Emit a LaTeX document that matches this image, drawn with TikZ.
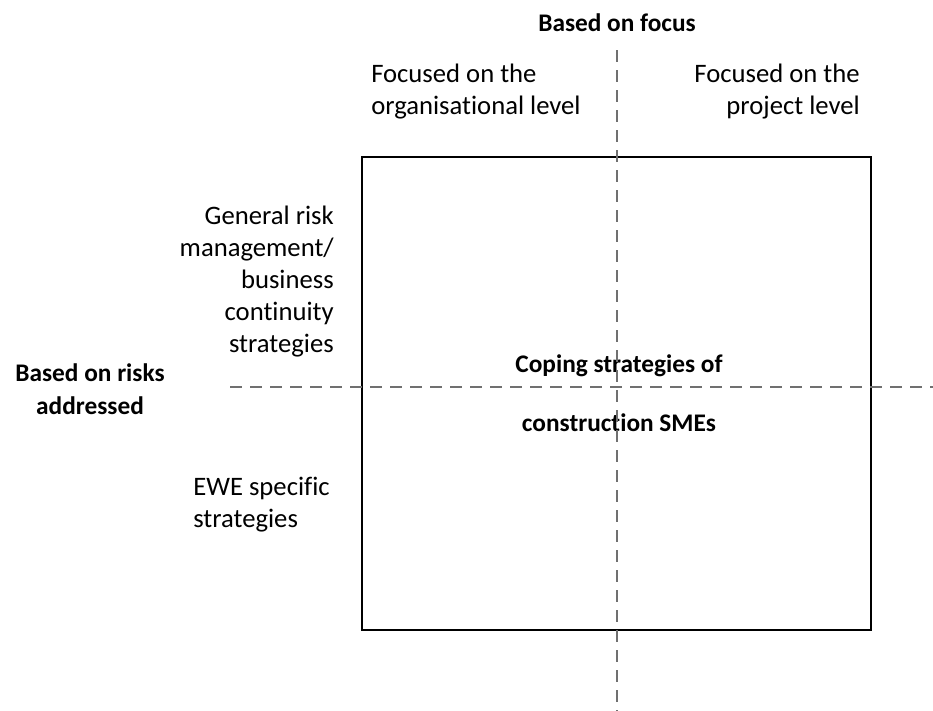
\documentclass[tikz,border=0pt]{standalone}
\usepackage{fontspec}
\setmainfont{Carlito}[Ligatures=NoCommon]
\usetikzlibrary{positioning}

\begin{document}
\begin{tikzpicture}[x=0.75pt, y=-0.75pt,
    lbl/.style={inner sep=0pt, font=\fontsize{20}{24}\selectfont},
    hd/.style={inner sep=0pt, align=center, font=\fontsize{19}{25}\selectfont\bfseries},
    axisline/.style={draw=black!56, line width=2.2pt, dash pattern=on 9pt off 6pt}]
      \useasboundingbox (0, 0) rectangle (933, 711);

      % matrix box
      \draw[line width=2.1pt] (362, 157) rectangle (871, 630);

      % labels
      \node[hd] (focus) at (617, 23) {Based on focus};
      \node[lbl, align=left, anchor=west] (orglev) at (371, 92) {Focused on the\\organisational level};
      \node[lbl, align=right, anchor=east] (projlev) at (860, 92) {Focused on the\\project level};
      \node[lbl, align=right, anchor=east] (genrisk) at (334, 282) {General risk\\management/\\business\\continuity\\strategies};
      \node[hd] (risks) at (90, 389) {Based on risks\\addressed};
      \node[lbl, align=left, anchor=west] (ewe) at (193, 505) {EWE specific\\strategies};
      \node[hd, font=\fontsize{19}{44}\selectfont\bfseries] (coping) at (619, 393) {Coping strategies of\\construction SMEs};

      % dashed axes
      \coordinate (vtop) at (617, 50);
      \coordinate (vbot) at (617, 711);
      \coordinate (hleft) at (230, 387);
      \coordinate (hright) at (933, 387);
      \draw[axisline, line width=1.6pt] (vtop) -- (vbot);
      \draw[axisline] (hleft) -- (hright);
    \end{tikzpicture}
\end{document}
